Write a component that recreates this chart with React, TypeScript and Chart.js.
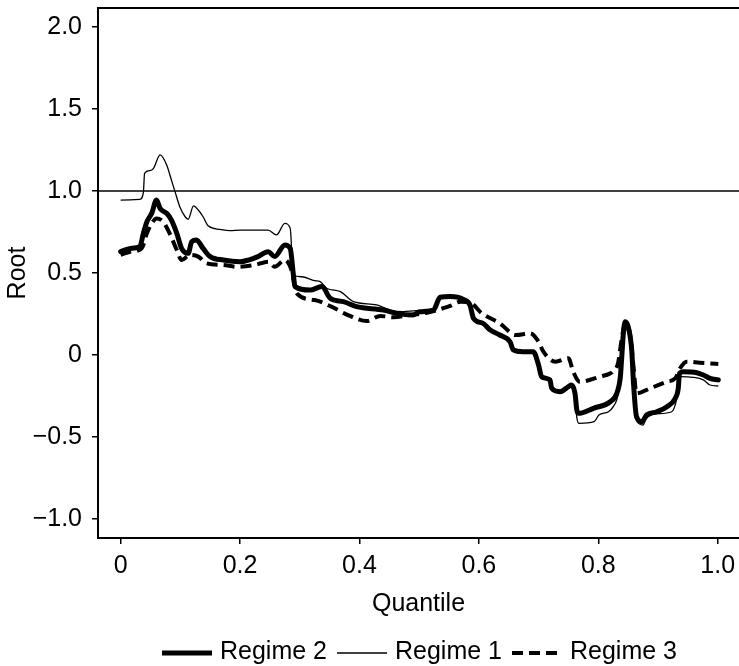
import React, { useEffect, useRef } from 'react';
import { Chart, registerables } from 'chart.js';

Chart.register(...registerables);

// ---- data ----
const regime1Q = [0, 0.032, 0.038, 0.040, 0.049, 0.055, 0.066, 0.077, 0.085, 0.091, 0.099, 0.108, 0.113, 0.122, 0.130, 0.138, 0.147, 0.166, 0.183, 0.200, 0.247, 0.261, 0.275, 0.284, 0.289, 0.303, 0.325, 0.334, 0.345, 0.368, 0.390, 0.429, 0.451, 0.473, 0.496, 0.524, 0.535, 0.552, 0.574, 0.585, 0.591, 0.607, 0.619, 0.635, 0.652, 0.658, 0.674, 0.691, 0.700, 0.705, 0.719, 0.722, 0.736, 0.750, 0.755, 0.761, 0.764, 0.768, 0.793, 0.801, 0.817, 0.825, 0.833, 0.837, 0.840, 0.843, 0.846, 0.850, 0.855, 0.859, 0.864, 0.875, 0.880, 0.895, 0.923, 0.931, 0.937, 0.959, 0.976, 0.987, 1.001];
const regime1Root = [0.945, 0.949, 0.99, 1.108, 1.124, 1.138, 1.22, 1.159, 1.067, 0.996, 0.904, 0.843, 0.827, 0.909, 0.884, 0.843, 0.786, 0.766, 0.758, 0.762, 0.762, 0.732, 0.803, 0.772, 0.488, 0.477, 0.453, 0.447, 0.407, 0.386, 0.325, 0.305, 0.274, 0.264, 0.27, 0.27, 0.345, 0.35, 0.335, 0.3, 0.22, 0.19, 0.15, 0.115, 0.075, 0.025, 0.01, 0.01, -0.07, -0.14, -0.16, -0.21, -0.23, -0.2, -0.19, -0.24, -0.38, -0.417, -0.407, -0.366, -0.346, -0.315, -0.24, -0.1, 0.05, 0.18, 0.21, 0.17, 0.0, -0.2, -0.4, -0.427, -0.39, -0.36, -0.346, -0.274, -0.132, -0.136, -0.152, -0.183, -0.189];

const regime2Q = [0, 0.016, 0.032, 0.038, 0.044, 0.052, 0.060, 0.066, 0.077, 0.085, 0.094, 0.102, 0.113, 0.119, 0.127, 0.138, 0.150, 0.172, 0.200, 0.214, 0.230, 0.247, 0.258, 0.275, 0.284, 0.289, 0.292, 0.317, 0.337, 0.351, 0.373, 0.395, 0.440, 0.462, 0.490, 0.501, 0.524, 0.535, 0.552, 0.574, 0.585, 0.591, 0.607, 0.619, 0.635, 0.652, 0.658, 0.674, 0.691, 0.700, 0.705, 0.719, 0.722, 0.736, 0.750, 0.755, 0.761, 0.764, 0.767, 0.792, 0.820, 0.831, 0.837, 0.839, 0.842, 0.845, 0.850, 0.856, 0.859, 0.864, 0.873, 0.881, 0.898, 0.915, 0.929, 0.934, 0.936, 0.942, 0.965, 0.976, 0.987, 1.001];
const regime2Root = [0.63, 0.65, 0.66, 0.742, 0.813, 0.864, 0.945, 0.894, 0.864, 0.823, 0.742, 0.65, 0.62, 0.691, 0.701, 0.65, 0.6, 0.579, 0.569, 0.579, 0.6, 0.63, 0.6, 0.671, 0.65, 0.498, 0.417, 0.396, 0.417, 0.346, 0.325, 0.295, 0.274, 0.254, 0.244, 0.264, 0.274, 0.352, 0.356, 0.339, 0.305, 0.224, 0.193, 0.152, 0.122, 0.081, 0.03, 0.02, 0.02, -0.061, -0.132, -0.152, -0.203, -0.224, -0.193, -0.183, -0.234, -0.335, -0.356, -0.325, -0.285, -0.234, -0.132, -0.03, 0.132, 0.203, 0.173, 0.03, -0.173, -0.376, -0.407, -0.366, -0.346, -0.315, -0.264, -0.203, -0.112, -0.102, -0.108, -0.122, -0.142, -0.152];

const regime3Q = [0, 0.016, 0.035, 0.044, 0.052, 0.060, 0.071, 0.082, 0.094, 0.102, 0.116, 0.130, 0.144, 0.172, 0.194, 0.225, 0.247, 0.258, 0.275, 0.286, 0.295, 0.325, 0.353, 0.384, 0.412, 0.435, 0.457, 0.485, 0.513, 0.540, 0.552, 0.569, 0.585, 0.605, 0.635, 0.662, 0.686, 0.700, 0.708, 0.728, 0.750, 0.758, 0.769, 0.803, 0.820, 0.824, 0.833, 0.839, 0.845, 0.853, 0.859, 0.864, 0.887, 0.915, 0.929, 0.937, 0.948, 0.970, 0.987, 1.001];
const regime3Root = [0.61, 0.63, 0.65, 0.742, 0.803, 0.833, 0.813, 0.742, 0.64, 0.579, 0.61, 0.6, 0.559, 0.549, 0.538, 0.549, 0.569, 0.538, 0.579, 0.518, 0.376, 0.335, 0.295, 0.238, 0.207, 0.238, 0.23, 0.244, 0.258, 0.285, 0.299, 0.325, 0.32, 0.254, 0.193, 0.122, 0.132, 0.081, 0.02, -0.041, -0.02, -0.102, -0.163, -0.132, -0.112, -0.102, -0.051, 0.091, 0.193, 0.132, -0.071, -0.234, -0.203, -0.163, -0.142, -0.081, -0.041, -0.047, -0.051, -0.055];

const seriesLabels = ['Regime 2', 'Regime 1', 'Regime 3'];
const xTicks = [0, 0.2, 0.4, 0.6, 0.8, 1.0];
const xTickLabels = ['0', '0.2', '0.4', '0.6', '0.8', '1.0'];
const yTicks = [-1.0, -0.5, 0, 0.5, 1.0, 1.5, 2.0];
const yTickLabels = ['\u22121.0', '\u22120.5', '0', '0.5', '1.0', '1.5', '2.0'];
const referenceLine = 1.0;
const xTitle = 'Quantile';
const yTitle = 'Root';

const FONT = "'Liberation Sans', Arial, Helvetica, sans-serif";
const FONT_SIZE = 25;

const zip = (xs: number[], ys: number[]) => xs.map((x, i) => ({ x, y: ys[i] }));

const decorPlugin = {
  id: 'decor',
  beforeDatasetsDraw(chart: any) {
    const { ctx, chartArea, scales } = chart;
    const y = scales.y.getPixelForValue(referenceLine);
    ctx.save();
    ctx.strokeStyle = '#000';
    ctx.lineWidth = 1.5;
    ctx.beginPath();
    ctx.moveTo(chartArea.left, y);
    ctx.lineTo(chartArea.right, y);
    ctx.stroke();
    ctx.restore();
  },
  afterDraw(chart: any) {
    const { ctx, chartArea } = chart;
    ctx.save();
    // top border
    ctx.strokeStyle = '#000';
    ctx.lineWidth = 2;
    ctx.beginPath();
    ctx.moveTo(chartArea.left - 1, chartArea.top);
    ctx.lineTo(chartArea.right, chartArea.top);
    ctx.stroke();

    // legend
    ctx.font = `${FONT_SIZE}px ${FONT}`;
    ctx.textBaseline = 'middle';
    ctx.textAlign = 'left';
    ctx.fillStyle = '#000';
    const sample = 50;
    const gapIn = 8;
    const gapOut = 10;
    const ds = chart.data.datasets;
    const widths = ds.map((d: any) => ctx.measureText(d.label).width);
    let total = 0;
    ds.forEach((_: any, i: number) => {
      total += sample + gapIn + widths[i];
      if (i < ds.length - 1) total += gapOut;
    });
    const cx = (chartArea.left + chartArea.right) / 2 + 1;
    let x = cx - total / 2;
    const yText = 652;
    const yLine = 653;
    ds.forEach((d: any, i: number) => {
      ctx.save();
      ctx.strokeStyle = '#000';
      ctx.lineWidth = d.borderWidth;
      ctx.setLineDash(d.borderDash || []);
      ctx.beginPath();
      ctx.moveTo(x, yLine);
      ctx.lineTo(x + sample, yLine);
      ctx.stroke();
      ctx.restore();
      x += sample + gapIn;
      ctx.fillText(d.label, x, yText);
      x += widths[i] + gapOut;
    });
    ctx.restore();
  },
};

export default function App() {
  const canvasRef = useRef<HTMLCanvasElement | null>(null);

  useEffect(() => {
    const canvas = canvasRef.current;
    if (!canvas) return;
    const chart = new Chart(canvas, {
      type: 'line',
      data: {
        datasets: [
          {
            label: seriesLabels[0],
            data: zip(regime2Q, regime2Root),
            borderColor: '#000',
            borderWidth: 5,
            borderDash: [],
            pointRadius: 0,
            cubicInterpolationMode: 'monotone',
            borderJoinStyle: 'round',
            borderCapStyle: 'round',
            fill: false,
            order: 0,
          },
          {
            label: seriesLabels[1],
            data: zip(regime1Q, regime1Root),
            borderColor: '#000',
            borderWidth: 1.3,
            borderDash: [],
            pointRadius: 0,
            cubicInterpolationMode: 'monotone',
            borderJoinStyle: 'round',
            fill: false,
            order: 2,
          },
          {
            label: seriesLabels[2],
            data: zip(regime3Q, regime3Root),
            borderColor: '#000',
            borderWidth: 4,
            borderDash: [11, 6],
            pointRadius: 0,
            cubicInterpolationMode: 'monotone',
            borderJoinStyle: 'round',
            fill: false,
            order: 1,
          },
        ],
      },
      options: {
        animation: false,
        responsive: false,
        layout: { padding: { top: 8, left: 0, right: 0, bottom: 0 } },
        plugins: { legend: { display: false }, tooltip: { enabled: false } },
        scales: {
          x: {
            type: 'linear',
            min: -0.038,
            max: 1.0357,
            afterFit: (s: any) => { s.height = 128; s.paddingLeft = 0; s.paddingRight = 0; },
            afterBuildTicks: (s: any) => { s.ticks = xTicks.map((v) => ({ value: v })); },
            ticks: {
              autoSkip: false,
              maxRotation: 0,
              padding: 7,
              color: '#000',
              font: { family: FONT, size: FONT_SIZE },
              callback: (_v: any, i: number) => xTickLabels[i],
            },
            grid: { display: true, drawOnChartArea: false, drawTicks: true, tickLength: 6, color: '#000', lineWidth: 1.5 },
            border: { display: true, color: '#000', width: 2 },
            title: { display: true, text: xTitle, color: '#000', font: { family: FONT, size: FONT_SIZE }, padding: { top: 0, bottom: 47 } },
          },
          y: {
            type: 'linear',
            min: -1.116,
            max: 2.116,
            afterFit: (s: any) => { s.width = 98; s.paddingTop = 0; s.paddingBottom = 0; },
            afterBuildTicks: (s: any) => { s.ticks = yTicks.map((v) => ({ value: v })); },
            ticks: {
              autoSkip: false,
              padding: 10,
              color: '#000',
              font: { family: FONT, size: FONT_SIZE },
              callback: (_v: any, i: number) => yTickLabels[i],
            },
            grid: { display: true, drawOnChartArea: false, drawTicks: true, tickLength: 6, color: '#000', lineWidth: 1.5 },
            border: { display: true, color: '#000', width: 2 },
            title: { display: true, text: yTitle, color: '#000', font: { family: FONT, size: FONT_SIZE }, padding: { top: 3, bottom: 0 } },
          },
        },
      },
      plugins: [decorPlugin],
    } as any);
    return () => chart.destroy();
  }, []);

  return (
    <div style={{ position: 'fixed', left: 0, top: 0, width: 739, height: 666, overflow: 'hidden', background: '#fff' }}>
      <canvas ref={canvasRef} width={739} height={666} style={{ display: 'block' }} />
    </div>
  );
}
